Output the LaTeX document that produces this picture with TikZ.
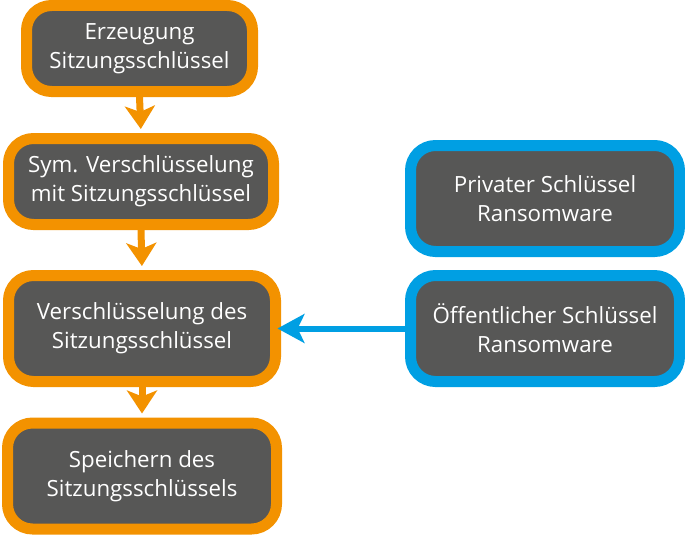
\documentclass[tikz,border=0pt]{standalone}
\usepackage{fontspec}
\setmainfont{Open Sans}
\usetikzlibrary{arrows.meta}
\definecolor{boxgray}{HTML}{575756}
\definecolor{orng}{HTML}{F39200}
\definecolor{blu}{HTML}{009FE3}
\tikzset{
  x=1pt, y=-1pt,
  basebox/.style={fill=boxgray, line width=11pt, rounded corners=25pt, inner sep=0pt,
    align=center, text=white, font=\fontsize{22.3}{29}\selectfont},
  obox/.style={basebox, draw=orng},
  bbox/.style={basebox, draw=blu},
  oarrow/.style={draw=orng, line width=7pt, -{Stealth[length=23pt, width=30pt, inset=6pt]}},
  barrow/.style={draw=blu, line width=6pt, -{Stealth[length=27pt, width=29pt, inset=7pt]}}
}
\begin{document}
\begin{tikzpicture}
\useasboundingbox (0,0) rectangle (685,535);
\node[obox, minimum width=226pt, minimum height=86pt] (b1) at (139.5,48.5) {Erzeugung\\Sitzungsschlüssel};
\node[obox, minimum width=265pt, minimum height=86pt] (b2) at (141,181.5) {Sym. Verschlüsselung\\mit Sitzungsschlüssel};
\node[obox, minimum width=267pt, minimum height=106pt] (b3) at (142,328.5) {Verschlüsselung des\\Sitzungsschlüssel};
\node[obox, minimum width=269pt, minimum height=106pt] (b4) at (142,476) {Speichern des\\Sitzungsschlüssels};
\node[bbox, minimum width=269pt, minimum height=106pt] (b5) at (545,198.5) {Privater Schlüssel\\Ransomware};
\node[bbox, minimum width=269pt, minimum height=106pt] (b6) at (545,328.5) {Öffentlicher Schlüssel\\Ransomware};
\draw[oarrow, shorten >=4pt] (b1.south) -- (b2.north);
\draw[oarrow, shorten >=4pt] (b2.south) -- (b3.north);
\draw[oarrow, shorten >=4pt] (b3.south) -- (b4.north);
\draw[barrow, shorten >=-3.5pt] (b6.west) -- (b3.east);
\end{tikzpicture}
\end{document}
